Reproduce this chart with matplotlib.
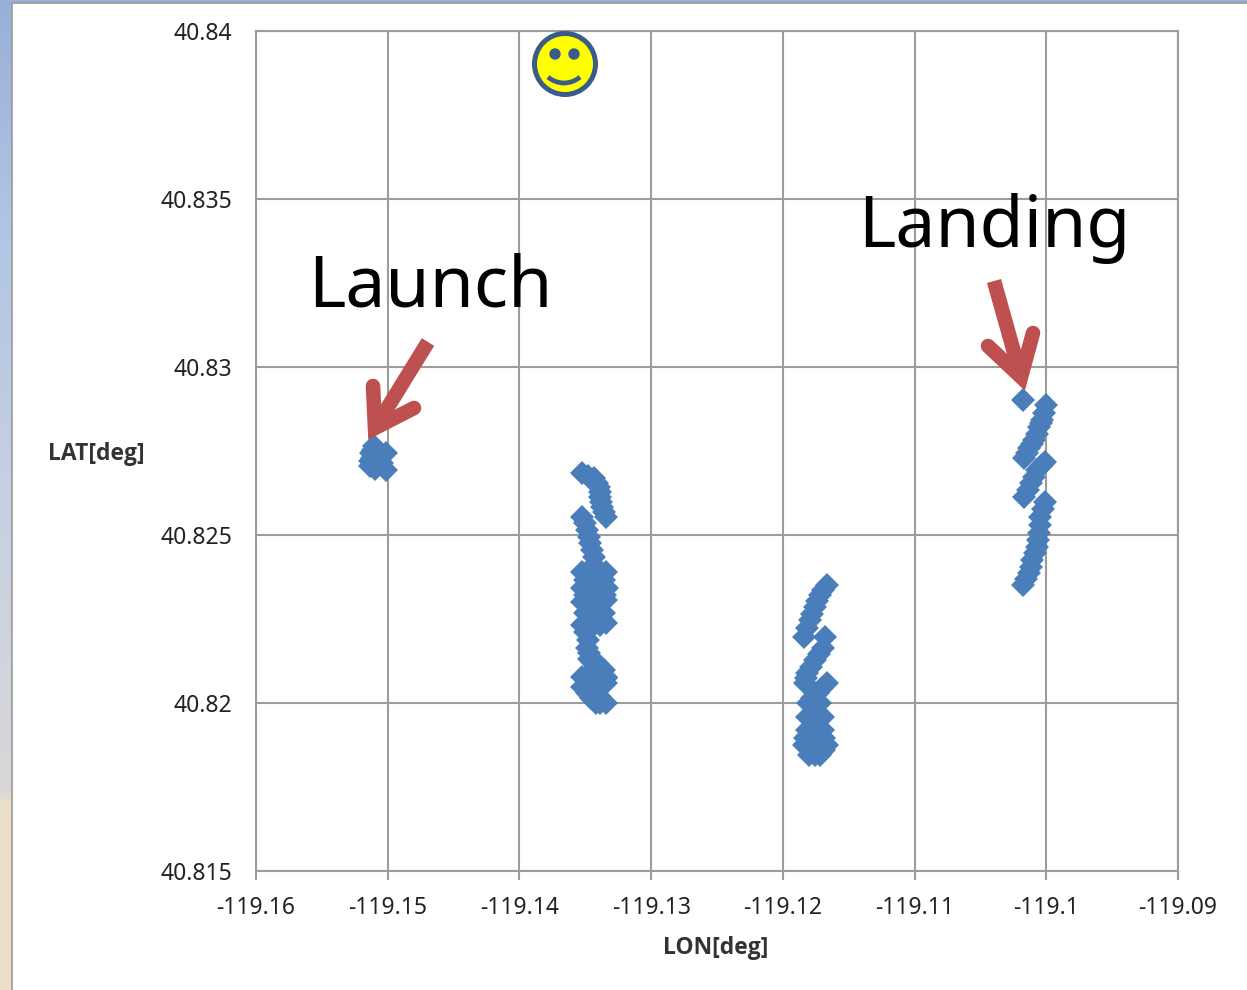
import numpy as np
import matplotlib
matplotlib.use("Agg")
import matplotlib.pyplot as plt
from matplotlib.lines import Line2D
from matplotlib.patches import Circle, Arc
from matplotlib.ticker import FixedLocator, FixedFormatter

W, H = 1247, 990

lon_launch = [-119.15114, -119.15076, -119.15121, -119.15015, -119.15137, -119.15015, -119.15091,
              -119.15105, -119.15060, -119.15100, -119.15137, -119.15040, -119.15125, -119.15090]
lat_launch = [40.82753, 40.82738, 40.82729, 40.82744, 40.82705, 40.82693, 40.82717,
              40.82765, 40.82725, 40.82695, 40.82720, 40.82715, 40.82745, 40.82745]

lon_leg2 = [-119.13522, -119.13476, -119.13431, -119.13410, -119.13393, -119.13389, -119.13385, -119.13378,
            -119.13370, -119.13355, -119.13340,
            -119.13522, -119.13503, -119.13484, -119.13472, -119.13461, -119.13446, -119.13431, -119.13431,
            -119.13522, -119.13484, -119.13431, -119.13385, -119.13340,
            -119.13500, -119.13450, -119.13400, -119.13360,
            -119.13522, -119.13484, -119.13431, -119.13385, -119.13332,
            -119.13500, -119.13450, -119.13400, -119.13350,
            -119.13522, -119.13484, -119.13431, -119.13385, -119.13340,
            -119.13500, -119.13450, -119.13400, -119.13360,
            -119.13522, -119.13484, -119.13431, -119.13385, -119.13340,
            -119.13500, -119.13476, -119.13484, -119.13475, -119.13469, -119.13445, -119.13408, -119.13360,
            -119.13385, -119.13340, -119.13440, -119.13522, -119.13484, -119.13431, -119.13385, -119.13340,
            -119.13522, -119.13484, -119.13431, -119.13385, -119.13340,
            -119.13490, -119.13454, -119.13420, -119.13385, -119.13340, -119.13393, -119.13431]
lat_leg2 = [40.82684, 40.82677, 40.82670, 40.82656, 40.82643, 40.82628, 40.82613, 40.82598,
            40.82583, 40.82568, 40.82554,
            40.82554, 40.82535, 40.82515, 40.82495, 40.82476, 40.82455, 40.82434, 40.82412,
            40.82390, 40.82390, 40.82390, 40.82390, 40.82390,
            40.82365, 40.82365, 40.82365, 40.82365,
            40.82342, 40.82342, 40.82342, 40.82342, 40.82342,
            40.82320, 40.82320, 40.82320, 40.82320,
            40.82301, 40.82301, 40.82301, 40.82301, 40.82307,
            40.82268, 40.82268, 40.82268, 40.82268,
            40.82232, 40.82232, 40.82232, 40.82232, 40.82238,
            40.82212, 40.82187, 40.82165, 40.82149, 40.82130, 40.82119, 40.82119, 40.82098,
            40.82098, 40.82075, 40.82098, 40.82077, 40.82077, 40.82077, 40.82077, 40.82077,
            40.82048, 40.82048, 40.82048, 40.82048, 40.82060,
            40.82030, 40.82015, 40.82000, 40.82000, 40.82000, 40.82020, 40.82030]

lon_leg3 = [-119.11666, -119.11692, -119.11719, -119.11738, -119.11757, -119.11776, -119.11795, -119.11818, -119.11841,
            -119.11681, -119.11696, -119.11726, -119.11757, -119.11788, -119.11818, -119.11825, -119.11833,
            -119.11666, -119.11700, -119.11734, -119.11775, -119.11810, -119.11757, -119.11719,
            -119.11818, -119.11785, -119.11757, -119.11725, -119.11696,
            -119.11818, -119.11785, -119.11757, -119.11725, -119.11696,
            -119.11830, -119.11785, -119.11757, -119.11725, -119.11690,
            -119.11841, -119.11795, -119.11757, -119.11715, -119.11666,
            -119.11800, -119.11757, -119.11719, -119.11690]
lat_leg3 = [40.82351, 40.82336, 40.82321, 40.82303, 40.82286, 40.82266, 40.82247, 40.82222, 40.82196,
            40.82196, 40.82164, 40.82146, 40.82128, 40.82108, 40.82089, 40.82075, 40.82060,
            40.82060, 40.82045, 40.82030, 40.82015, 40.82000, 40.82000, 40.82000,
            40.81958, 40.81958, 40.81958, 40.81958, 40.81958,
            40.81920, 40.81920, 40.81920, 40.81920, 40.81920,
            40.81895, 40.81895, 40.81895, 40.81895, 40.81895,
            40.81875, 40.81875, 40.81875, 40.81875, 40.81875,
            40.81845, 40.81845, 40.81845, 40.81860]

lon_leg4 = [-119.10175, -119.10000, -119.10015, -119.10030, -119.10042, -119.10053, -119.10072, -119.10091, -119.10110,
            -119.10129, -119.10148, -119.10167,
            -119.10008, -119.10038, -119.10068, -119.10091, -119.10114, -119.10140, -119.10167,
            -119.10008, -119.10027, -119.10046, -119.10050, -119.10053, -119.10060, -119.10068, -119.10087, -119.10106,
            -119.10118, -119.10129, -119.10152, -119.10175]
lat_leg4 = [40.82902, 40.82887, 40.82863, 40.82842, 40.82832, 40.82821, 40.82802, 40.82783, 40.82771,
            40.82759, 40.82744, 40.82729,
            40.82717, 40.82705, 40.82693, 40.82674, 40.82655, 40.82634, 40.82613,
            40.82598, 40.82576, 40.82554, 40.82530, 40.82506, 40.82485, 40.82464, 40.82445, 40.82426,
            40.82406, 40.82387, 40.82369, 40.82351]

lon_series = [lon_launch, lon_leg2, lon_leg3, lon_leg4]
lat_series = [lat_launch, lat_leg2, lat_leg3, lat_leg4]

x_ticks = [-119.16, -119.15, -119.14, -119.13, -119.12, -119.11, -119.10, -119.09]
x_labels = ["-119.16", "-119.15", "-119.14", "-119.13", "-119.12", "-119.11", "-119.1", "-119.09"]
y_ticks = [40.815, 40.82, 40.825, 40.83, 40.835, 40.84]
y_labels = ["40.815", "40.82", "40.825", "40.83", "40.835", "40.84"]

GRID = "#9C9C9C"
BLUE = "#4A7EBB"
RED = "#BE5150"
FONT = ["Noto Sans", "DejaVu Sans"]
BOLD = ["Open Sans", "DejaVu Sans"]

fig = plt.figure(figsize=(W / 100, H / 100), dpi=100, facecolor="white")

# screen backdrop behind the pasted chart
bg = fig.add_axes([0, 0, 1, 1], zorder=0)
stops = np.array([[152, 175, 216], [178, 198, 228], [198, 208, 226], [216, 216, 216],
                  [236, 224, 204], [234, 222, 200]], float) / 255
pos = np.array([0, 240, 500, 790, 805, 990]) / 990
yy = np.linspace(0, 1, H)
grad = np.stack([np.interp(yy, pos, stops[:, i]) for i in range(3)], axis=1)[:, None, :]
bg.imshow(grad, aspect="auto", extent=[0, W, H, 0])
bg.set_xlim(0, W); bg.set_ylim(H, 0); bg.axis("off")
bg.add_patch(plt.Rectangle((12, 3), W, H, fc="white", ec="#9a9a9a", lw=1.2))

ax = fig.add_axes([256 / W, (H - 871) / H, (1178 - 256) / W, (871 - 31) / H], zorder=1)
ax.set_xlim(-119.16, -119.09)
ax.set_ylim(40.815, 40.84)
ax.set_facecolor("none")
ax.xaxis.set_major_locator(FixedLocator(x_ticks))
ax.xaxis.set_major_formatter(FixedFormatter(x_labels))
ax.yaxis.set_major_locator(FixedLocator(y_ticks))
ax.yaxis.set_major_formatter(FixedFormatter(y_labels))
ax.grid(True, color=GRID, lw=1.5, zorder=1)
ax.set_axisbelow(True)
for s in ax.spines.values():
    s.set_color(GRID); s.set_linewidth(1.5)
ax.tick_params(axis="x", length=6.5, width=1.5, color=GRID, pad=11.5, labelsize=16.5, labelcolor="#222222")
ax.tick_params(axis="y", length=0, pad=17, labelsize=16.5, labelcolor="#222222")
for t in ax.get_xticklabels() + ax.get_yticklabels():
    t.set_family(FONT)

for lons, lats in zip(lon_series, lat_series):
    ax.plot(lons, lats, ls="none", marker="D", ms=12.2, mfc=BLUE, mec=BLUE, mew=0, zorder=3)

# overlay in screen pixels
ov = fig.add_axes([0, 0, 1, 1], zorder=2)
ov.set_xlim(0, W); ov.set_ylim(H, 0); ov.axis("off")

def arrow(start, vertex, barb1, barb2):
    ov.add_line(Line2D([start[0], vertex[0]], [start[1], vertex[1]], color=RED, lw=10.5,
                       solid_capstyle="butt"))
    ov.add_line(Line2D([barb1[0], vertex[0], barb2[0]], [barb1[1], vertex[1], barb2[1]], color=RED, lw=10.5,
                       solid_capstyle="round", solid_joinstyle="miter"))

arrow((428, 342), (375, 428), (373, 386), (414, 408))
arrow((994, 281), (1021, 377), (988, 346), (1033, 333))

ov.text(430, 288, "Launch", fontsize=51.5, family=FONT, color="black", ha="center", va="center")
ov.text(994, 228, "Landing", fontsize=51.5, family=FONT, color="black", ha="center", va="center")
ov.text(96, 454, "LAT[deg]", fontsize=16.5, fontweight="bold", family=BOLD, color="#333333", ha="center", va="center")
ov.text(716, 948, "LON[deg]", fontsize=16.5, fontweight="bold", family=BOLD, color="#333333", ha="center", va="center")

# smiley
ov.add_patch(Circle((565, 64), 30.5, fc="#FFFF00", ec="#385D8A", lw=3.6))
ov.add_patch(Circle((555, 54), 5.7, fc="#385D8A", ec="none"))
ov.add_patch(Circle((574, 54), 5.7, fc="#385D8A", ec="none"))
ov.add_patch(Arc((564, 58.7), 48.6, 48.6, theta1=49, theta2=131, color="#385D8A", lw=3.4))

fig.savefig("out.png", dpi=100)
